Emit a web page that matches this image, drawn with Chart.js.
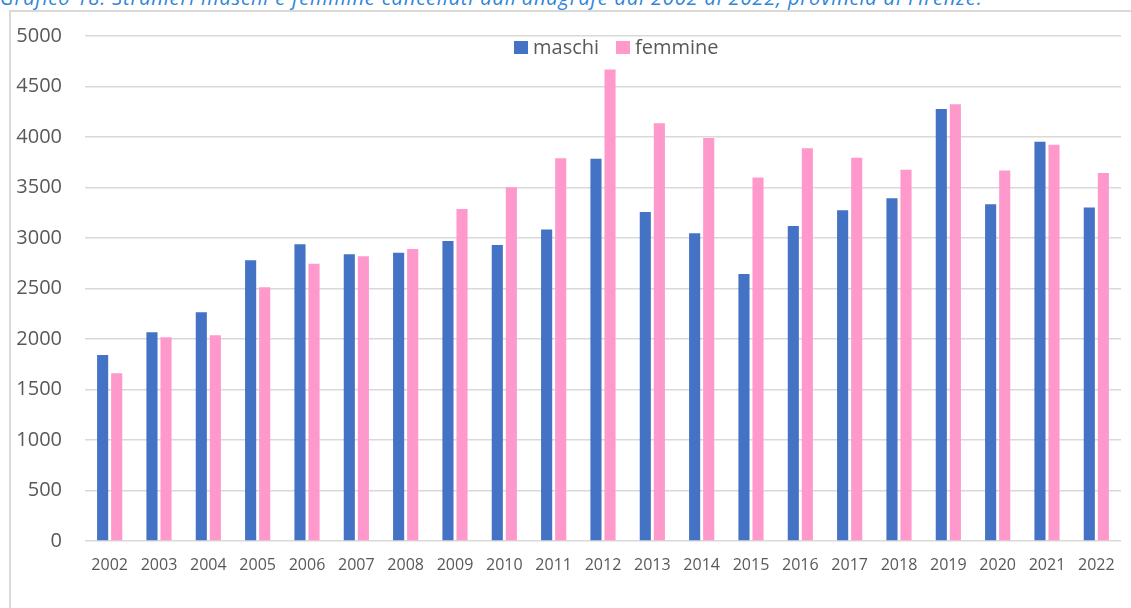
<!DOCTYPE html>
<html lang="it">
<head>
<meta charset="utf-8">
<script src="https://cdn.jsdelivr.net/npm/chart.js@4.4.1/dist/chart.umd.min.js"></script>
<style>
    html, body { margin: 0; padding: 0; background: #fff; overflow: hidden; }
    body { width: 1131px; height: 608px; position: relative; font-family: "Open Sans", sans-serif; }
    .titolo {
        position: absolute; left: 0; top: -12px; white-space: nowrap;
        font-style: italic; font-size: 20px; line-height: 20px; letter-spacing: 0.85px; color: #2e86d9;
    }
    .cornice {
        position: absolute; left: 9px; top: 10px; width: 1200px; height: 700px;
        border-top: 2px solid #d9d9d9; border-left: 2px solid #d9d9d9;
    }
    #chart-wrap { position: absolute; left: 0; top: 0; width: 1131px; height: 608px; }
    .legenda {
        position: absolute; left: 514px; top: 34px; display: flex; align-items: center;
        font-size: 20px; color: #595959; line-height: 26px;
    }
    .legenda span.box { display: inline-block; width: 14px; height: 13px; margin-right: 5px; }
    .legenda span.label { margin-right: 17px; }
</style>
</head>
<body>
<div class="titolo">Grafico 18. Stranieri maschi e femmine cancellati dall'anagrafe dal 2002 al 2022, provincia di Firenze.</div>
<div class="cornice"></div>
<div id="chart-wrap"><canvas id="cancellati-chart"></canvas></div>
<div class="legenda" id="legenda"></div>

<script>
const anni = ['2002', '2003', '2004', '2005', '2006', '2007', '2008', '2009', '2010', '2011', '2012',
    '2013', '2014', '2015', '2016', '2017', '2018', '2019', '2020', '2021', '2022'];
const maschi = [1842, 2066, 2264, 2779, 2938, 2839, 2855, 2970, 2931, 3083, 3785,
    3257, 3047, 2643, 3119, 3274, 3393, 4277, 3334, 3953, 3301];
const femmine = [1660, 2017, 2037, 2512, 2746, 2819, 2891, 3287, 3503, 3790, 4668,
    4136, 3990, 3599, 3888, 3795, 3675, 4324, 3669, 3923, 3644];

const COLORE_M = '#4472c4';
const COLORE_F = '#ff99cc';
const GRIGLIA = '#d9d9d9';
const TESTO = '#595959';

function renderChart(elementId) {
    const ctx = document.getElementById(elementId).getContext('2d');
    return new Chart(ctx, {
        type: 'bar',
        data: {
            labels: anni,
            datasets: [
                { label: 'maschi', data: maschi, backgroundColor: COLORE_M },
                { label: 'femmine', data: femmine, backgroundColor: COLORE_F }
            ]
        },
        options: {
            responsive: true,
            maintainAspectRatio: false,
            animation: false,
            datasets: { bar: { categoryPercentage: 0.57, barPercentage: 0.79 } },
            layout: { padding: { top: 36, right: 10, left: 0, bottom: 20 } },
            plugins: {
                legend: { display: false },
                tooltip: { enabled: true, mode: 'index', intersect: false }
            },
            scales: {
                x: {
                    grid: { display: false, drawTicks: false },
                    border: { display: false },
                    ticks: { color: TESTO, font: { family: 'Open Sans', size: 16 }, padding: 15, maxRotation: 0 },
                    afterFit: (scale) => { scale.height = 47; }
                },
                y: {
                    min: 0,
                    max: 5000,
                    grid: { color: GRIGLIA, lineWidth: 1.5, drawTicks: false },
                    border: { display: false },
                    ticks: {
                        stepSize: 500, color: TESTO, font: { family: 'Open Sans', size: 20 }, padding: 23,
                        callback: (value) => String(value)
                    },
                    afterFit: (scale) => { scale.width = 85; }
                }
            }
        }
    });
}

// legenda HTML costruita dai dataset del grafico
function renderLegend(chart) {
    const box = document.getElementById('legenda');
    box.innerHTML = chart.data.datasets.map(ds =>
        `<span class="box" style="background:${ds.backgroundColor}"></span><span class="label">${ds.label}</span>`
    ).join('');
}

document.addEventListener('DOMContentLoaded', () => {
    const chart = renderChart('cancellati-chart');
    renderLegend(chart);
});
</script>
</body>
</html>
